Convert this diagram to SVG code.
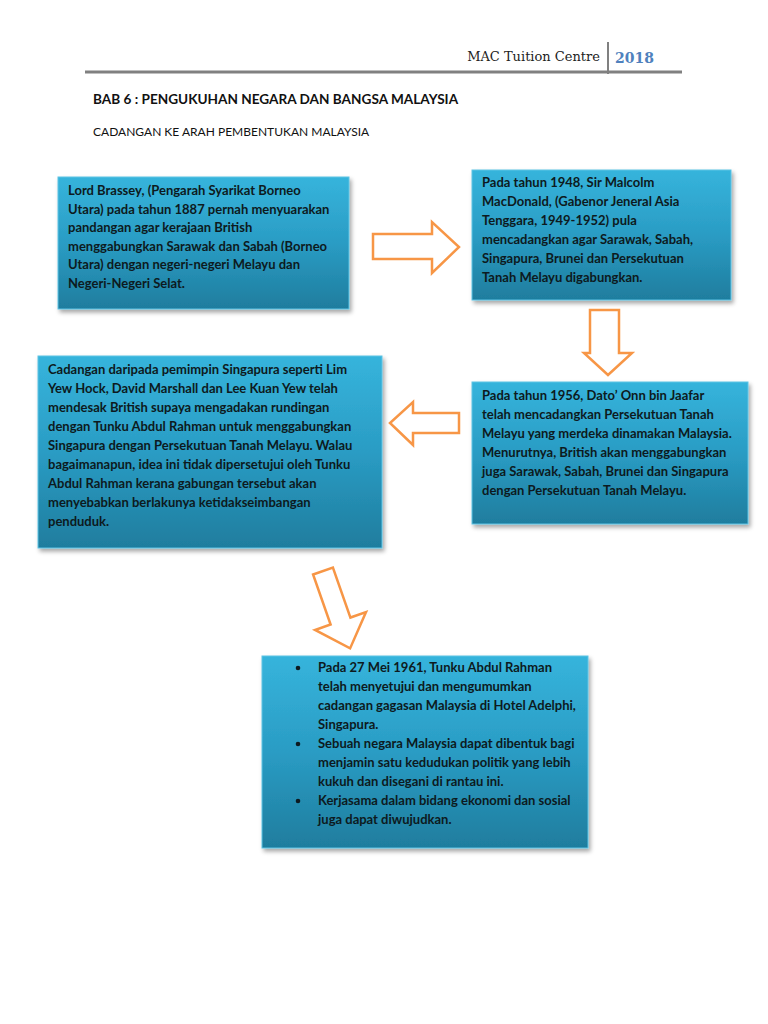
<svg xmlns="http://www.w3.org/2000/svg" width="768" height="1024" viewBox="0 0 768 1024">
<defs>
<linearGradient id="g" x1="0" y1="0" x2="0" y2="1">
<stop offset="0" stop-color="#36b4dc"/>
<stop offset="0.5" stop-color="#2a9cc4"/>
<stop offset="1" stop-color="#1f7d9e"/>
</linearGradient>
<filter id="sh" x="-10%" y="-10%" width="130%" height="130%">
<feDropShadow dx="2" dy="3" stdDeviation="2" flood-color="#000" flood-opacity="0.35"/>
</filter>
<style>
.box{fill:url(#g);stroke:#5cc3e4;stroke-width:1;filter:url(#sh)}
.t{font-family:Lato,"Open Sans",sans-serif;font-weight:700;font-size:13px;fill:#0d1a20}
.arr{fill:#fff;stroke:#f79646;stroke-width:2.5;stroke-linejoin:miter}
.hd{font-family:"DejaVu Serif","Liberation Serif",serif;font-size:13px;fill:#222}
</style>
</defs>
<rect width="768" height="1024" fill="#fff"/>
<g id="header">
<line x1="85" y1="72" x2="682" y2="72" stroke="#808080" stroke-width="3"/>
<line x1="608" y1="42" x2="608" y2="74" stroke="#808080" stroke-width="2"/>
<text class="hd" x="600" y="61" text-anchor="end">MAC Tuition Centre</text>
<text x="615" y="63" font-family="DejaVu Serif,serif" font-weight="700" font-size="14" fill="#4f81bd">2018</text>
<text x="93" y="104" font-family="Lato,sans-serif" font-weight="700" font-size="13.6" fill="#111">BAB 6 : PENGUKUHAN NEGARA DAN BANGSA MALAYSIA</text>
<text x="93" y="136" font-family="Lato,sans-serif" font-size="12" fill="#111">CADANGAN KE ARAH PEMBENTUKAN MALAYSIA</text>
</g>
<g id="connectors">
<polygon class="arr" points="373,234 432,234 432,222 459,247 432,273 432,259 373,259"/>
<polygon class="arr" points="590,310 619,310 619,353 632,353 608,375 584,353 590,353"/>
<polygon class="arr" points="459,413 413,413 413,402 390,423 413,445 413,433 459,433"/>
<polygon class="arr" transform="translate(323,571) rotate(-19.3)" points="-10.5,0 10.5,0 10.5,53 27,53 0,82 -27,53 -10.5,53"/>
</g>
<g id="n1">
<rect class="box" x="58" y="177" width="291" height="132"/>
<text class="t"><tspan x="68" y="195">Lord Brassey, (Pengarah Syarikat Borneo</tspan><tspan x="68" y="214">Utara) pada tahun 1887 pernah menyuarakan</tspan><tspan x="68" y="232">pandangan agar kerajaan British</tspan><tspan x="68" y="251">menggabungkan Sarawak dan Sabah (Borneo</tspan><tspan x="68" y="269">Utara) dengan negeri-negeri Melayu dan</tspan><tspan x="68" y="288">Negeri-Negeri Selat.</tspan></text>
</g>
<g id="n2">
<rect class="box" x="472" y="170" width="259" height="130"/>
<text class="t"><tspan x="482" y="187">Pada tahun 1948, Sir Malcolm</tspan><tspan x="482" y="206">MacDonald, (Gabenor Jeneral Asia</tspan><tspan x="482" y="225">Tenggara, 1949-1952) pula</tspan><tspan x="482" y="244">mencadangkan agar Sarawak, Sabah,</tspan><tspan x="482" y="263">Singapura, Brunei dan Persekutuan</tspan><tspan x="482" y="282">Tanah Melayu digabungkan.</tspan></text>
</g>
<g id="n3">
<rect class="box" x="472" y="382" width="276" height="142"/>
<text class="t"><tspan x="482" y="400">Pada tahun 1956, Dato’ Onn bin Jaafar</tspan><tspan x="482" y="419">telah mencadangkan Persekutuan Tanah</tspan><tspan x="482" y="438">Melayu yang merdeka dinamakan Malaysia.</tspan><tspan x="482" y="457">Menurutnya, British akan menggabungkan</tspan><tspan x="482" y="476">juga Sarawak, Sabah, Brunei dan Singapura</tspan><tspan x="482" y="495">dengan Persekutuan Tanah Melayu.</tspan></text>
</g>
<g id="n4">
<rect class="box" x="38" y="356" width="344" height="192"/>
<text class="t"><tspan x="48" y="374">Cadangan daripada pemimpin Singapura seperti Lim</tspan><tspan x="48" y="393">Yew Hock, David Marshall dan Lee Kuan Yew telah</tspan><tspan x="48" y="412">mendesak British supaya mengadakan rundingan</tspan><tspan x="48" y="431">dengan Tunku Abdul Rahman untuk menggabungkan</tspan><tspan x="48" y="450">Singapura dengan Persekutuan Tanah Melayu. Walau</tspan><tspan x="48" y="469">bagaimanapun, idea ini tidak dipersetujui oleh Tunku</tspan><tspan x="48" y="488">Abdul Rahman kerana gabungan tersebut akan</tspan><tspan x="48" y="507">menyebabkan berlakunya ketidakseimbangan</tspan><tspan x="48" y="526">penduduk.</tspan></text>
</g>
<g id="n5">
<rect class="box" x="262" y="656" width="326" height="192"/>
<g fill="#0d1a20"><circle cx="298" cy="668" r="2.3"/><circle cx="298" cy="744" r="2.3"/><circle cx="298" cy="801" r="2.3"/></g>
<text class="t"><tspan x="318" y="672">Pada 27 Mei 1961, Tunku Abdul Rahman</tspan><tspan x="318" y="691">telah menyetujui dan mengumumkan</tspan><tspan x="318" y="710">cadangan gagasan Malaysia di Hotel Adelphi,</tspan><tspan x="318" y="729">Singapura.</tspan><tspan x="318" y="748">Sebuah negara Malaysia dapat dibentuk bagi</tspan><tspan x="318" y="767">menjamin satu kedudukan politik yang lebih</tspan><tspan x="318" y="786">kukuh dan disegani di rantau ini.</tspan><tspan x="318" y="805">Kerjasama dalam bidang ekonomi dan sosial</tspan><tspan x="318" y="824">juga dapat diwujudkan.</tspan></text>
</g>
</svg>
